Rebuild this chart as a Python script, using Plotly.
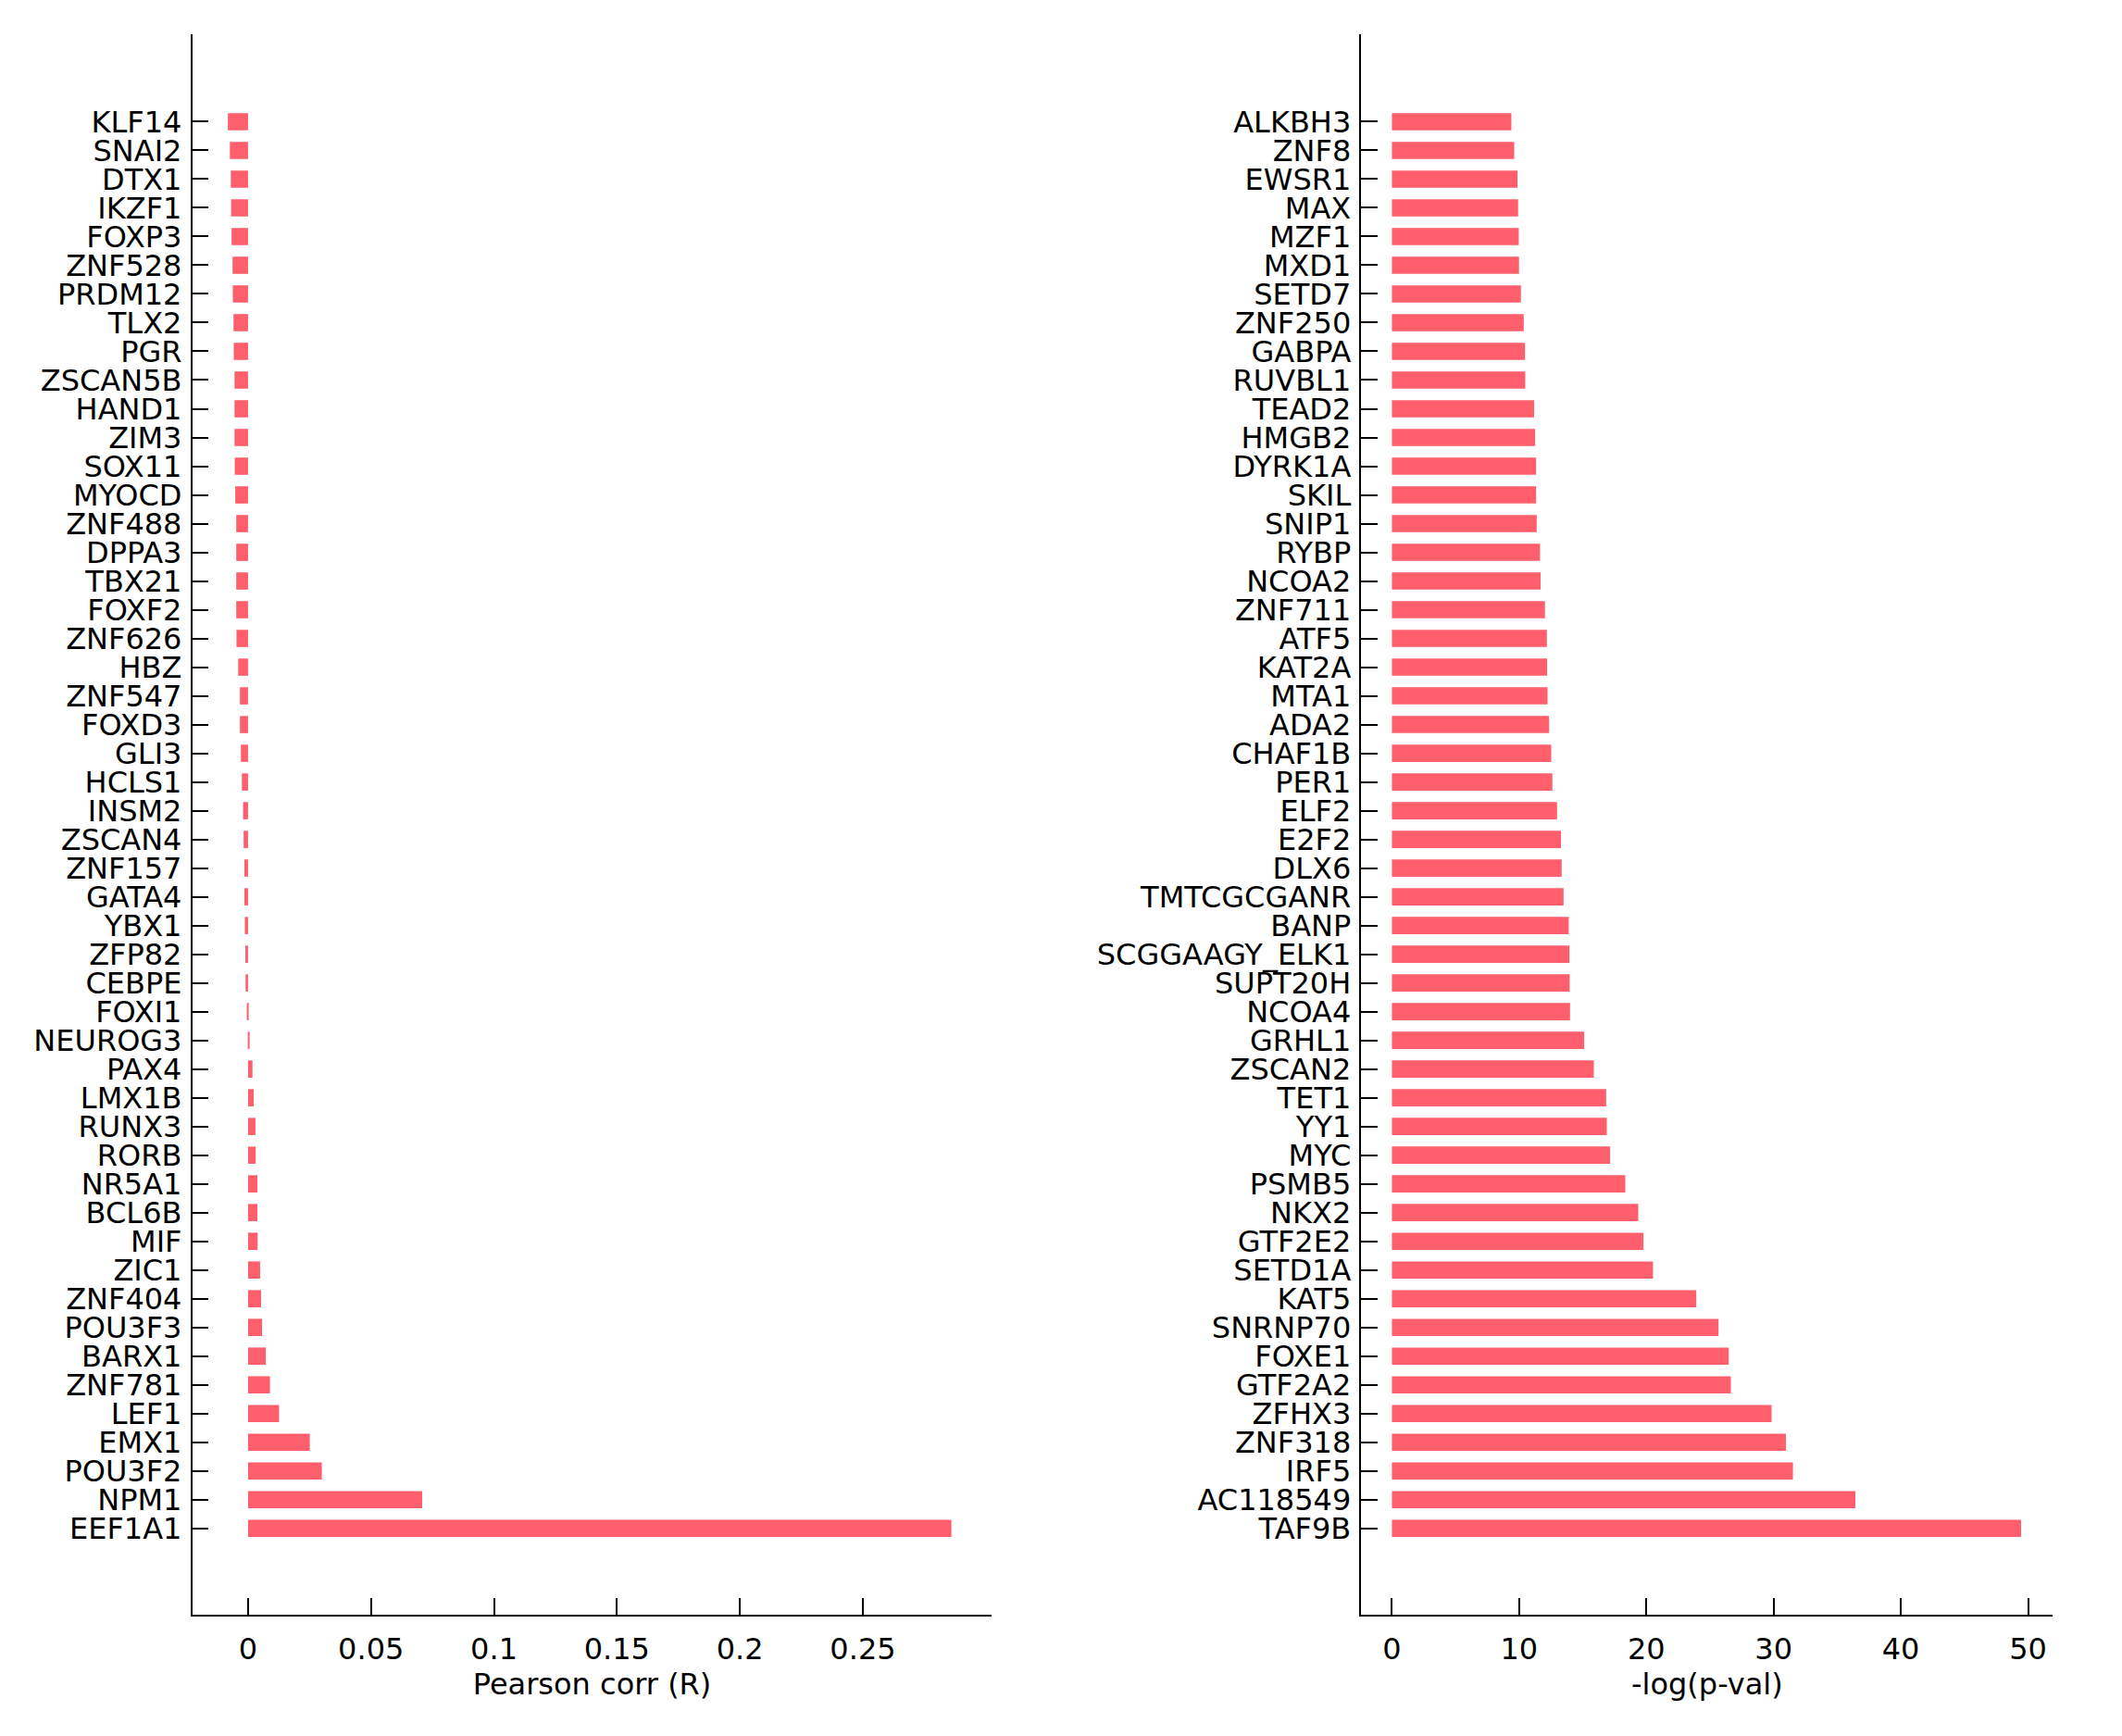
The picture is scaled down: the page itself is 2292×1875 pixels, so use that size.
import plotly.graph_objects as go

# Left panel: Pearson correlation (top to bottom order)
corr_genes = ["KLF14", "SNAI2", "DTX1", "IKZF1", "FOXP3", "ZNF528", "PRDM12", "TLX2", "PGR", "ZSCAN5B",
              "HAND1", "ZIM3", "SOX11", "MYOCD", "ZNF488", "DPPA3", "TBX21", "FOXF2", "ZNF626", "HBZ",
              "ZNF547", "FOXD3", "GLI3", "HCLS1", "INSM2", "ZSCAN4", "ZNF157", "GATA4", "YBX1", "ZFP82",
              "CEBPE", "FOXI1", "NEUROG3", "PAX4", "LMX1B", "RUNX3", "RORB", "NR5A1", "BCL6B", "MIF",
              "ZIC1", "ZNF404", "POU3F3", "BARX1", "ZNF781", "LEF1", "EMX1", "POU3F2", "NPM1", "EEF1A1"]
corr_values = [-0.0082, -0.0074, -0.0070, -0.0069, -0.0067, -0.0063, -0.0062, -0.0059, -0.0058, -0.0055,
               -0.0055, -0.0055, -0.0054, -0.0052, -0.0048, -0.0048, -0.0048, -0.0048, -0.0047, -0.0040,
               -0.0033, -0.0033, -0.0029, -0.0025, -0.0020, -0.0018, -0.0015, -0.0015, -0.0013, -0.0011,
               -0.0010, -0.0005, 0.0005, 0.0018, 0.0023, 0.0030, 0.0031, 0.0038, 0.0038, 0.0039,
               0.0049, 0.0053, 0.0057, 0.0072, 0.0089, 0.0126, 0.0251, 0.0300, 0.0708, 0.2860]

# Right panel: -log(p-val) (top to bottom order)
pval_genes = ["ALKBH3", "ZNF8", "EWSR1", "MAX", "MZF1", "MXD1", "SETD7", "ZNF250", "GABPA", "RUVBL1",
              "TEAD2", "HMGB2", "DYRK1A", "SKIL", "SNIP1", "RYBP", "NCOA2", "ZNF711", "ATF5", "KAT2A",
              "MTA1", "ADA2", "CHAF1B", "PER1", "ELF2", "E2F2", "DLX6", "TMTCGCGANR", "BANP", "SCGGAAGY_ELK1",
              "SUPT20H", "NCOA4", "GRHL1", "ZSCAN2", "TET1", "YY1", "MYC", "PSMB5", "NKX2", "GTF2E2",
              "SETD1A", "KAT5", "SNRNP70", "FOXE1", "GTF2A2", "ZFHX3", "ZNF318", "IRF5", "AC118549", "TAF9B"]
pval_values = [9.39, 9.61, 9.87, 9.92, 9.97, 9.99, 10.14, 10.36, 10.46, 10.48,
               11.18, 11.26, 11.33, 11.33, 11.38, 11.64, 11.69, 12.03, 12.18, 12.20,
               12.23, 12.35, 12.52, 12.61, 12.98, 13.29, 13.34, 13.49, 13.90, 13.95,
               13.97, 14.00, 15.11, 15.87, 16.84, 16.89, 17.15, 18.34, 19.36, 19.77,
               20.52, 23.92, 25.67, 26.47, 26.64, 29.84, 30.97, 31.52, 36.43, 49.45]

corr_ticks = [0, 0.05, 0.1, 0.15, 0.2, 0.25]
pval_ticks = [0, 10, 20, 30, 40, 50]

BAR_COLOR = "#ff5e6c"
FONT = "DejaVu Sans"

fig = go.Figure()
fig.add_trace(go.Bar(x=corr_values, y=corr_genes, orientation="h", marker_color=BAR_COLOR,
                     marker_line_width=0, width=0.6, xaxis="x", yaxis="y", showlegend=False))
fig.add_trace(go.Bar(x=pval_values, y=pval_genes, orientation="h", marker_color=BAR_COLOR,
                     marker_line_width=0, width=0.6, xaxis="x2", yaxis="y2", showlegend=False))

common_x = dict(showgrid=False, zeroline=False, showline=True, linecolor="black", linewidth=1.5,
                ticks="inside", ticklen=18, tickwidth=1.5, tickcolor="black",
                tickfont=dict(family=FONT, size=32, color="black"), ticklabelstandoff=8)
common_y = dict(showgrid=False, zeroline=False, showline=True, linecolor="black", linewidth=1.5,
                ticks="inside", ticklen=18, tickwidth=1.5, tickcolor="black",
                tickfont=dict(family=FONT, size=32, color="black"), ticklabelstandoff=3,
                type="category", range=[-3.0, 52.06], domain=[0.0703, 0.9847],
                tickmode="linear", dtick=1)

fig.update_layout(
    width=2284, height=1867,
    margin=dict(l=0, r=0, t=0, b=0),
    paper_bgcolor="white", plot_bgcolor="white",
    bargap=0.4,
    xaxis=dict(**common_x, domain=[0.0874, 0.4656], range=[-0.0227, 0.3025],
               tickvals=corr_ticks, anchor="y",
               title=dict(text="Pearson corr (R)", font=dict(family=FONT, size=32, color="black"), standoff=8)),
    yaxis=dict(**common_y, anchor="x", categoryorder="array", categoryarray=corr_genes[::-1]),
    xaxis2=dict(**common_x, domain=[0.6403, 0.9673], range=[-2.4, 51.95],
                tickvals=pval_ticks, anchor="y2",
                title=dict(text="-log(p-val)", font=dict(family=FONT, size=32, color="black"), standoff=8)),
    yaxis2=dict(**common_y, anchor="x2", categoryorder="array", categoryarray=pval_genes[::-1]),
)

fig.write_html("out.html")
